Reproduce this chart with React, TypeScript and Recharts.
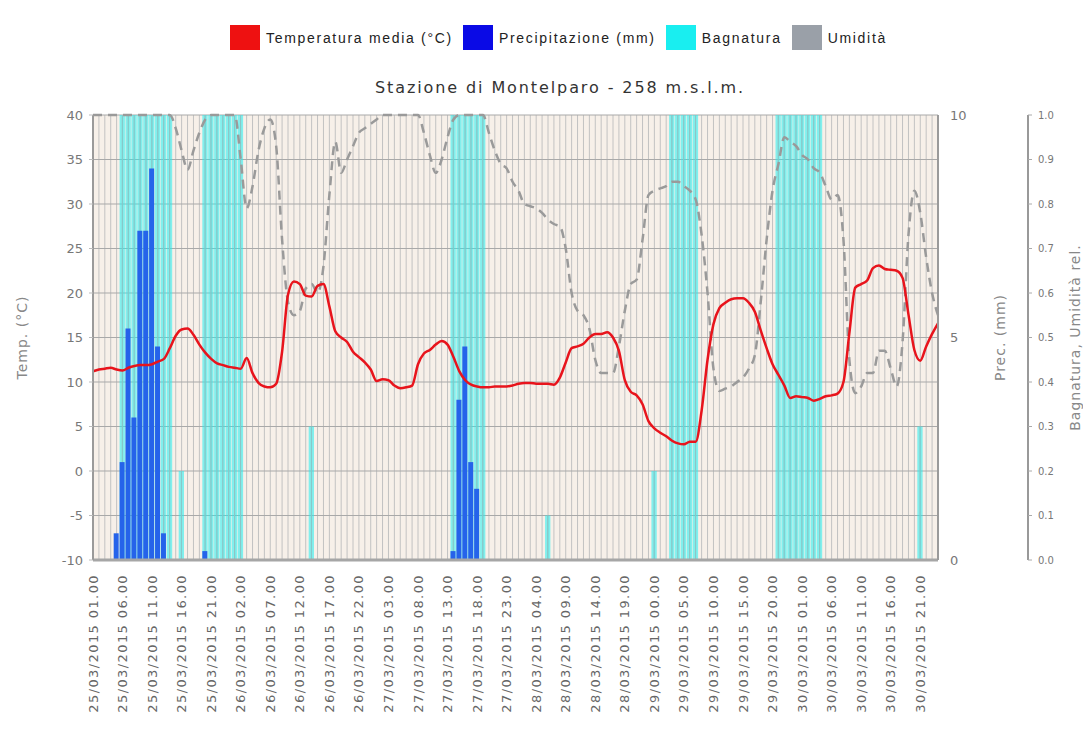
import React from "react";
import { ComposedChart, Bar, Line, XAxis, YAxis, CartesianGrid, Legend } from "recharts";

const CHART_TITLE = "Stazione di Montelparo - 258 m.s.l.m.";
const START_DAY = 25;
const START_HOUR = 1;

// Temperatura media (°C), hourly from 25/03/2015 01.00
const TEMP = [
  11.2, 11.4, 11.5, 11.6, 11.4, 11.3, 11.6, 11.8, 11.9, 11.9, 12.0, 12.3,
  12.6, 13.8, 15.2, 15.9, 16.0, 15.3, 14.2, 13.3, 12.6, 12.1, 11.9, 11.7,
  11.6, 11.5, 12.7, 11.0, 9.9, 9.5, 9.4, 9.8, 13.4, 19.8, 21.3, 21.0,
  19.7, 19.6, 20.8, 21.0, 18.5, 15.7, 15.0, 14.5, 13.4, 12.8, 12.2, 11.4,
  10.1, 10.3, 10.2, 9.6, 9.3, 9.4, 9.6, 12.0, 13.2, 13.6, 14.2, 14.6,
  14.2, 12.8, 11.2, 10.2, 9.7, 9.5, 9.4, 9.4, 9.5, 9.5, 9.5, 9.6,
  9.8, 9.9, 9.9, 9.8, 9.8, 9.8, 9.7, 10.5, 12.2, 13.8, 14.0, 14.3,
  15.0, 15.4, 15.4, 15.6, 15.0, 13.5, 10.2, 8.9, 8.5, 7.5, 5.6, 4.8,
  4.3, 3.9, 3.4, 3.1, 3.0, 3.3, 3.3, 6.8, 12.5, 16.5, 18.3, 18.9,
  19.3, 19.4, 19.4, 18.9, 17.9, 15.8, 13.8, 12.0, 10.8, 9.6, 8.2, 8.4,
  8.3, 8.2, 7.9, 8.1, 8.4, 8.5, 8.7, 10.0, 15.5, 20.6, 21.0, 21.4,
  22.8, 23.1, 22.7, 22.6, 22.5, 21.7, 17.6, 13.6, 12.4, 14.0, 15.4, 16.6,
];

// Precipitazione (mm)
const PREC = [
  0, 0, 0, 0, 0.6, 2.2, 5.2, 3.2, 7.4, 7.4, 8.8, 4.8,
  0.6, 0, 0, 0, 0, 0, 0, 0.2, 0, 0, 0, 0,
  0, 0, 0, 0, 0, 0, 0, 0, 0, 0, 0, 0,
  0, 0, 0, 0, 0, 0, 0, 0, 0, 0, 0, 0,
  0, 0, 0, 0, 0, 0, 0, 0, 0, 0, 0, 0,
  0, 0.2, 3.6, 4.8, 2.2, 1.6, 0, 0, 0, 0, 0, 0,
  0, 0, 0, 0, 0, 0, 0, 0, 0, 0, 0, 0,
  0, 0, 0, 0, 0, 0, 0, 0, 0, 0, 0, 0,
  0, 0, 0, 0, 0, 0, 0, 0, 0, 0, 0, 0,
  0, 0, 0, 0, 0, 0, 0, 0, 0, 0, 0, 0,
  0, 0, 0, 0, 0, 0, 0, 0, 0, 0, 0, 0,
  0, 0, 0, 0, 0, 0, 0, 0, 0, 0, 0, 0,
];

// Bagnatura (fraction of hour)
const BAGN = [
  0, 0, 0, 0, 0, 1, 1, 1, 1, 1, 1, 1,
  1, 1, 0, 0.2, 0, 0, 0, 1, 1, 1, 1, 1,
  1, 1, 0, 0, 0, 0, 0, 0, 0, 0, 0, 0,
  0, 0.3, 0, 0, 0, 0, 0, 0, 0, 0, 0, 0,
  0, 0, 0, 0, 0, 0, 0, 0, 0, 0, 0, 0,
  0, 1, 1, 1, 1, 1, 1, 0, 0, 0, 0, 0,
  0, 0, 0, 0, 0, 0.1, 0, 0, 0, 0, 0, 0,
  0, 0, 0, 0, 0, 0, 0, 0, 0, 0, 0, 0.2,
  0, 0, 1, 1, 1, 1, 1, 0, 0, 0, 0, 0,
  0, 0, 0, 0, 0, 0, 0, 0, 1, 1, 1, 1,
  1, 1, 1, 1, 0, 0, 0, 0, 0, 0, 0, 0,
  0, 0, 0, 0, 0, 0, 0, 0, 0.3, 0, 0, 0,
];

// Umidità relativa (0-1)
const UMID = [
  1.0, 1.0, 1.0, 1.0, 1.0, 1.0, 1.0, 1.0, 1.0, 1.0, 1.0, 1.0,
  1.0, 1.0, 0.97, 0.92, 0.877, 0.92, 0.96, 0.99, 1.0, 1.0, 1.0, 1.0,
  1.0, 0.9, 0.79, 0.84, 0.92, 0.97, 0.99, 0.93, 0.72, 0.58, 0.55, 0.56,
  0.61, 0.62, 0.6, 0.66, 0.82, 0.94, 0.87, 0.9, 0.93, 0.96, 0.97, 0.98,
  0.99, 1.0, 1.0, 1.0, 1.0, 1.0, 1.0, 1.0, 0.96, 0.91, 0.87, 0.9,
  0.95, 0.99, 1.0, 1.0, 1.0, 1.0, 1.0, 0.96, 0.92, 0.89, 0.88, 0.85,
  0.83, 0.8, 0.795, 0.79, 0.78, 0.765, 0.755, 0.75, 0.7, 0.6, 0.56, 0.55,
  0.52, 0.45, 0.42, 0.42, 0.42, 0.48, 0.56, 0.62, 0.63, 0.72, 0.82, 0.83,
  0.835, 0.84, 0.85, 0.85, 0.84, 0.83, 0.81, 0.73, 0.6, 0.43, 0.38, 0.385,
  0.39, 0.4, 0.41, 0.43, 0.46, 0.58, 0.72, 0.83, 0.89, 0.95, 0.94, 0.93,
  0.91, 0.9, 0.88, 0.87, 0.84, 0.81, 0.82, 0.72, 0.45, 0.375, 0.39, 0.42,
  0.42, 0.47, 0.47, 0.43, 0.39, 0.49, 0.73, 0.83, 0.78, 0.68, 0.6, 0.55,
];

const TEMP_TICKS = [-10, -5, 0, 5, 10, 15, 20, 25, 30, 35, 40];
const PREC_TICKS = [0, 5, 10];
const UMID_TICKS = [0, 0.1, 0.2, 0.3, 0.4, 0.5, 0.6, 0.7, 0.8, 0.9, 1.0];

const LEGEND_ITEMS = [
  { label: "Temperatura media (°C)", color: "#ee1111" },
  { label: "Precipitazione (mm)", color: "#0a0ae6" },
  { label: "Bagnatura", color: "#19eef0" },
  { label: "Umidità", color: "#9aa0a8" },
];

const pad = (n: number) => (n < 10 ? "0" + n : String(n));
function timeLabel(h: number): string {
  const total = START_HOUR + h;
  const day = START_DAY + Math.floor(total / 24);
  const hour = total % 24;
  return `${pad(day)}/03/2015 ${pad(hour)}.00`;
}

const data = TEMP.map((t, i) => ({
  h: i,
  time: timeLabel(i),
  temp: t,
  prec: PREC[i],
  bagn: BAGN[i],
  umid: UMID[i],
}));
const HOURS = data.map((d) => d.h);

const FONT = "'DejaVu Sans', Verdana, sans-serif";

const XTick = (props: any) => {
  const { x, y, payload } = props;
  const v = payload.value;
  if (v % 5 !== 0) return <g />;
  return (
    <g transform={`translate(${x},${y})`}>
      <text
        transform="rotate(-90)"
        x={-6}
        y={0}
        dy="0.35em"
        textAnchor="end"
        fontSize={13}
        letterSpacing={1.4}
        fill="#666"
        fontFamily={FONT}
      >
        {timeLabel(v)}
      </text>
    </g>
  );
};

// Wetness column: cyan block with the hourly grid line still visible through it
const WetShape = (props: any) => {
  const { x, y, width, height } = props;
  if (!height || height <= 0) return <g />;
  const cx = x + width / 2;
  return (
    <g>
      <rect x={x} y={y} width={width} height={height} fill="#22eef0" fillOpacity={0.55} />
      <line x1={cx} x2={cx} y1={y} y2={y + height} stroke="#8fc4c4" strokeWidth={1} />
    </g>
  );
};

const LegendContent = () => (
  <div
    style={{
      display: "flex",
      alignItems: "center",
      fontFamily: "'Liberation Sans', Arial, sans-serif",
      fontSize: 14,
      letterSpacing: 1.7,
      color: "#222",
      whiteSpace: "nowrap",
    }}
  >
    {LEGEND_ITEMS.map((it) => (
      <div key={it.label} style={{ display: "flex", alignItems: "center", marginRight: 10 }}>
        <span style={{ display: "inline-block", width: 30, height: 25, background: it.color, marginRight: 6 }} />
        <span>{it.label}</span>
      </div>
    ))}
  </div>
);

export default function App() {
  return (
    <div style={{ position: "relative", width: 1083, height: 727, fontFamily: FONT, background: "#fff" }}>
      <div
        style={{
          position: "absolute",
          top: 70,
          left: 0,
          width: 1104,
          textAlign: "center",
          fontSize: 16,
          letterSpacing: 1.9,
          color: "#333",
          lineHeight: "20px",
          fontFamily: FONT,
        }}
      >
        {CHART_TITLE}
      </div>
      <ComposedChart
        width={1083}
        height={727}
        data={data}
        margin={{ top: 107, right: 0, bottom: 0, left: 0 }}
      >
        <CartesianGrid
          xAxisId="x"
          yAxisId="temp"
          horizontal={false}
          vertical={true}
          fill="#f7f0e9"
          stroke="#c2c2c2"
          strokeWidth={1}
        />
        <CartesianGrid
          xAxisId="x"
          yAxisId="temp"
          horizontal={true}
          vertical={false}
          stroke="#a9a9a9"
          strokeWidth={1}
        />
        <XAxis
          xAxisId="x"
          dataKey="h"
          type="number"
          domain={[0, 143]}
          ticks={HOURS}
          interval={0}
          tick={<XTick />}
          tickLine={false}
          axisLine={{ stroke: "#a6a6a6", strokeWidth: 3 }}
          height={175}
        />
        <XAxis
          xAxisId="x2"
          dataKey="h"
          type="number"
          domain={[0, 143]}
          ticks={HOURS}
          hide
        />
        <YAxis
          yAxisId="temp"
          domain={[-10, 40]}
          ticks={TEMP_TICKS}
          width={85}
          interval={0}
          axisLine={{ stroke: "#9a9a9a", strokeWidth: 2 }}
          tickLine={{ stroke: "#bbb" }}
          tickSize={4}
          tickMargin={6}
          tick={{ fill: "#777", fontSize: 13, fontFamily: FONT }}
          label={{
            value: "Temp. (°C)",
            angle: -90,
            position: "insideLeft",
            offset: 14,
            style: { textAnchor: "middle", fill: "#888", fontSize: 14, fontFamily: FONT, letterSpacing: 1 },
          }}
        />
        <YAxis
          yAxisId="prec"
          orientation="right"
          domain={[0, 10]}
          ticks={PREC_TICKS}
          width={90}
          interval={0}
          axisLine={{ stroke: "#9a9a9a", strokeWidth: 2 }}
          tickLine={false}
          tickSize={6}
          tickMargin={6}
          tick={{ fill: "#777", fontSize: 13, fontFamily: FONT }}
          label={{
            value: "Prec. (mm)",
            angle: -90,
            position: "insideLeft",
            offset: 62,
            style: { textAnchor: "middle", fill: "#888", fontSize: 14, fontFamily: FONT, letterSpacing: 1 },
          }}
        />
        <YAxis
          yAxisId="umid"
          orientation="right"
          domain={[0, 1]}
          ticks={UMID_TICKS}
          width={63}
          interval={0}
          axisLine={{ stroke: "#999", strokeWidth: 2 }}
          tickLine={{ stroke: "#aaa" }}
          tickSize={4}
          tickMargin={6}
          tickFormatter={(v: number) => v.toFixed(1)}
          tick={{ fill: "#777", fontSize: 10, fontFamily: FONT }}
          label={{
            value: "Bagnatura, Umidità rel.",
            angle: -90,
            position: "insideLeft",
            offset: 47,
            style: { textAnchor: "middle", fill: "#888", fontSize: 14, fontFamily: FONT, letterSpacing: 1 },
          }}
        />
        <Legend
          verticalAlign="middle"
          align="center"
          layout="horizontal"
          wrapperStyle={{ top: 17, left: 222, width: 760, height: 26 }}
          content={() => <LegendContent />}
        />
        <Bar
          xAxisId="x2"
          yAxisId="umid"
          dataKey="bagn"
          name="Bagnatura"
          fill="#22eef0"
          barSize={6}
          shape={<WetShape />}
          isAnimationActive={false}
        />
        <Bar
          xAxisId="x"
          yAxisId="prec"
          dataKey="prec"
          name="Precipitazione (mm)"
          fill="#2563ea"
          barSize={5}
          isAnimationActive={false}
        />
        <Line
          xAxisId="x"
          yAxisId="umid"
          dataKey="umid"
          name="Umidità"
          type="monotone"
          stroke="#9a9a9a"
          strokeWidth={2.5}
          strokeDasharray="9 6"
          dot={false}
          activeDot={false}
          isAnimationActive={false}
        />
        <Line
          xAxisId="x"
          yAxisId="temp"
          dataKey="temp"
          name="Temperatura media (°C)"
          type="monotone"
          stroke="#e8141c"
          strokeWidth={2.5}
          dot={false}
          activeDot={false}
          isAnimationActive={false}
        />
      </ComposedChart>
    </div>
  );
}
